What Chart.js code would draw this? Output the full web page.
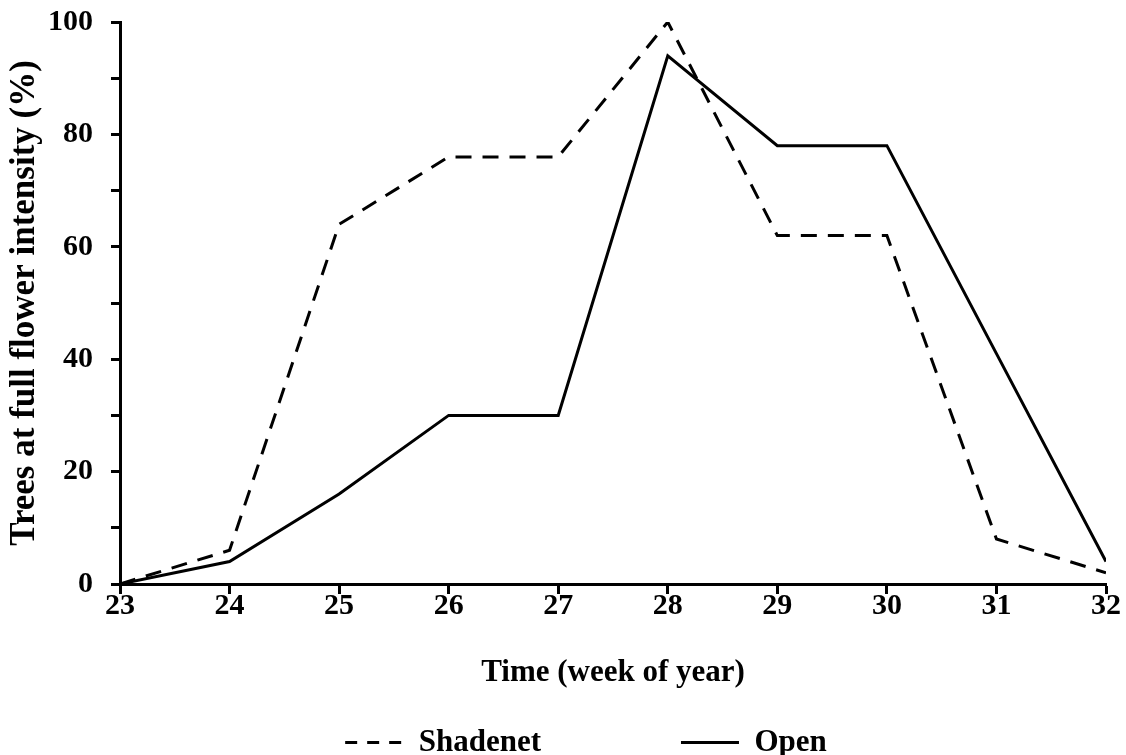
<!DOCTYPE html>
<html>
<head>
<meta charset="utf-8">
<script src="https://cdn.jsdelivr.net/npm/chart.js@4.4.0/dist/chart.umd.min.js"></script>
<style>
  html, body { margin: 0; padding: 0; background: #fff; }
  #wrap { width: 1126px; height: 755px; }
</style>
</head>
<body>
<div id="wrap"><canvas id="flowerChart"></canvas></div>
<script>
const weeks = [23, 24, 25, 26, 27, 28, 29, 30, 31, 32];
const shadenet = [0, 6, 64, 76, 76, 100, 62, 62, 8, 2];
const open = [0, 4, 16, 30, 30, 94, 78, 78, 41, 4];
const yLabels = [0, 20, 40, 60, 80, 100];

const serif = "'Liberation Serif', 'Times New Roman', serif";

const toPoints = vals => weeks.map((w, i) => ({ x: w, y: vals[i] }));

// nudge the legend a bit to the right, like the original figure
const legendShift = {
  id: 'legendShift',
  afterLayout(c) {
    if (c.legend) c.legend.left += 62;
  }
};

const ctx = document.getElementById('flowerChart').getContext('2d');
const chart = new Chart(ctx, {
  type: 'line',
  data: {
    datasets: [{
      label: 'Shadenet',
      data: toPoints(shadenet),
      borderColor: '#000',
      borderWidth: 3,
      borderDash: [16, 11],
      pointRadius: 0,
      tension: 0,
      fill: false
    }, {
      label: 'Open',
      data: toPoints(open),
      borderColor: '#000',
      borderWidth: 3,
      pointRadius: 0,
      tension: 0,
      fill: false
    }]
  },
  plugins: [legendShift],
  options: {
    responsive: true,
    maintainAspectRatio: false,
    animation: false,
    layout: { padding: { top: 0, right: 20, left: 4, bottom: -13 } },
    plugins: {
      tooltip: { enabled: false },
      legend: {
        position: 'bottom',
        labels: {
          usePointStyle: true,
          pointStyle: 'line',
          pointStyleWidth: 58,
          color: '#000',
          padding: 16,
          font: { family: serif, size: 31, weight: 'bold' },
          // dashed sample for the dashed series, wide gap after the first item
          generateLabels: c => {
            const items = Chart.defaults.plugins.legend.labels.generateLabels(c);
            items.forEach((it, i) => {
              const ds = c.data.datasets[it.datasetIndex];
              it.lineDash = ds.borderDash ? [12, 10] : [];
              it.lineWidth = 3;
              if (i < items.length - 1) it.text += '\u00a0'.repeat(16);
            });
            return items;
          }
        }
      }
    },
    scales: {
      x: {
        type: 'linear',
        min: 23,
        max: 32,
        border: { display: true, color: '#000', width: 3 },
        grid: { drawOnChartArea: false, color: '#000', tickLength: 10, tickWidth: 3 },
        ticks: {
          stepSize: 1,
          color: '#000',
          padding: -3,
          font: { family: serif, size: 30, weight: 'bold', lineHeight: 1 }
        },
        title: {
          display: true,
          text: 'Time (week of year)',
          color: '#000',
          padding: { top: 33, bottom: 19 },
          font: { family: serif, size: 31, weight: 'bold' }
        },
        afterFit: scale => { scale.height = 127; }
      },
      y: {
        min: 0,
        max: 100,
        border: { display: true, color: '#000', width: 3 },
        grid: { drawOnChartArea: false, color: '#000', tickLength: 9, tickWidth: 3 },
        ticks: {
          stepSize: 10,
          color: '#000',
          padding: 18,
          font: { family: serif, size: 30, weight: 'bold', lineHeight: 1 },
          callback: v => (yLabels.includes(v) ? v : '')
        },
        title: {
          display: true,
          text: 'Trees at full flower intensity (%)',
          color: '#000',
          padding: { top: 3, bottom: 0 },
          font: { family: serif, size: 35, weight: 'bold', lineHeight: 1.05 }
        },
        afterFit: scale => {
          scale.width = 116;
          scale.paddingTop = 22;
        }
      }
    }
  }
});
</script>
</body>
</html>
